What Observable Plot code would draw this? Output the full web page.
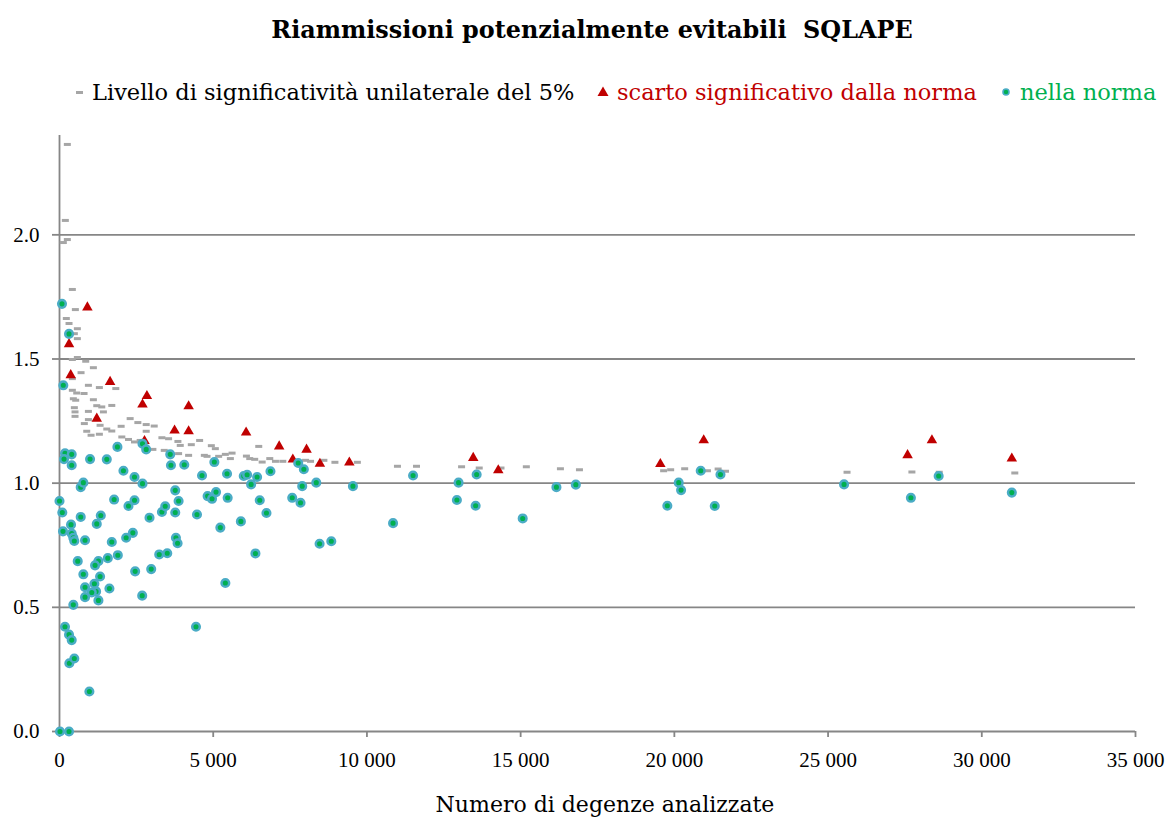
<!DOCTYPE html>
<html>
<head>
<meta charset="utf-8">
<script src="https://cdn.jsdelivr.net/npm/d3@7"></script>
<script src="https://cdn.jsdelivr.net/npm/@observablehq/plot@0.6"></script>
<style>
  html, body { margin: 0; padding: 0; background: #fff; }
  body { width: 1167px; height: 818px; overflow: hidden; position: relative; font-family: "DejaVu Serif", serif; }
  #head { position: relative; height: 120px; }
  #title { position: absolute; left: 192px; width: 800px; top: 15px; line-height: 30px; text-align: center; font-weight: bold; font-size: 23.9px; color: #000; white-space: nowrap; }
  .lg { position: absolute; top: 77px; line-height: 30px; font-size: 22.5px; white-space: nowrap; }
  .sym { position: absolute; }
  #chart svg { display: block; }
  #xlabel { position: absolute; left: 305px; width: 600px; top: 790px; line-height: 30px; text-align: center; font-size: 22px; color: #000; }
</style>
</head>
<body>
<div id="head">
  <div id="title">Riammissioni potenzialmente evitabili&nbsp; SQLAPE</div>
  <div class="sym" style="left:76px;top:91px;width:7px;height:3px;background:#A6A6A6"></div>
  <div class="lg" style="left:92px;color:#000">Livello di significatività unilaterale del 5%</div>
  <svg class="sym" style="left:597px;top:86px" width="12" height="11"><path d="M6,0.5 L11.5,10 L0.5,10 Z" fill="#C00000"/></svg>
  <div class="lg" style="left:617px;color:#C00000">scarto significativo dalla norma</div>
  <svg class="sym" style="left:1001px;top:87px" width="10" height="10"><circle cx="5" cy="5" r="3" fill="#00B050" stroke="#4BACC6" stroke-width="1.6"/></svg>
  <div class="lg" style="left:1020px;color:#00B050">nella norma</div>
</div>
<div id="chart"></div>
<div id="xlabel">Numero di degenze analizzate</div>
<script>
// Soglia (livello di significatività unilaterale del 5%): [degenze, valore]
const soglia = [
  [255,2.364],[190,2.058],[255,1.981],[125,1.969],[418,1.780],[516,1.699],[222,1.663],[310,1.643],
  [581,1.622],[483,1.602],[581,1.582],[581,1.506],[418,1.498],[853,1.491],[1102,1.465],[701,1.445],
  [418,1.421],[940,1.394],[1297,1.385],[1832,1.381],[418,1.374],[560,1.363],[799,1.361],[450,1.340],
  [527,1.334],[1102,1.336],[483,1.304],[1212,1.312],[1375,1.307],[1701,1.313],[505,1.287],[505,1.269],
  [940,1.289],[1428,1.287],[940,1.256],[808,1.240],[1320,1.233],[1538,1.218],[1701,1.210],[886,1.209],
  [1027,1.193],[1297,1.197],[2005,1.229],[2027,1.186],[2244,1.176],[2298,1.260],[2549,1.244],[2820,1.236],
  [3081,1.230],[2820,1.209],[2440,1.166],[2624,1.172],[3331,1.183],[3548,1.179],[3852,1.168],[3928,1.152],
  [4287,1.155],[4558,1.172],[4939,1.151],[5069,1.139],[3038,1.136],[3407,1.132],[3874,1.119],[4200,1.112],
  [4711,1.112],[4799,1.108],[5177,1.108],[5395,1.116],[5558,1.099],[5613,1.121],[6481,1.148],[6080,1.109],
  [6188,1.099],[6350,1.096],[6592,1.085],[6840,1.099],[7025,1.088],[7264,1.088],[8003,1.092],[8166,1.088],
  [8600,1.092],[8959,1.084],[9689,1.084],[10993,1.068],[11612,1.068],[13079,1.066],[13653,1.061],[14361,1.061],
  [15185,1.066],[16294,1.058],[16913,1.054],[19651,1.050],[19880,1.054],[20336,1.058],[21076,1.050],[21424,1.057],
  [21663,1.048],[25617,1.044],[27727,1.045],[28617,1.044],[31074,1.041]
];

// Scarto significativo dalla norma: [degenze, valore]
const scarto = [
  [907,1.714],[310,1.566],[365,1.441],[1646,1.414],[2843,1.357],[2700,1.323],[4200,1.316],[1212,1.266],
  [3743,1.218],[4200,1.215],[2765,1.176],[6070,1.210],[7146,1.154],[8036,1.141],[7590,1.101],[8470,1.084],
  [9428,1.089],[13458,1.108],[14272,1.058],[19544,1.083],[20955,1.179],[27586,1.119],[28378,1.179],[30977,1.105]
];

// Nella norma: [degenze, valore]
const norma = [
  [81,1.722],[310,1.601],[124,1.394],[180,1.120],[147,1.097],[397,1.116],[397,1.072],[994,1.097],
  [1538,1.096],[1884,1.146],[2080,1.050],[2440,1.025],[2700,0.998],[2700,1.159],[2820,1.136],[3602,1.116],
  [3625,1.072],[4059,1.074],[4636,1.031],[5037,1.085],[5450,1.038],[0,0.928],[91,0.882],[114,0.806],
  [375,0.833],[397,0.797],[450,0.780],[482,0.767],[690,0.864],[690,0.984],[776,1.002],[1212,0.836],
  [1343,0.870],[831,0.770],[1701,0.763],[1777,0.934],[2168,0.780],[2244,0.908],[2440,0.931],[2386,0.800],
  [2928,0.861],[3331,0.884],[3439,0.907],[3765,0.971],[3874,0.928],[3765,0.882],[3787,0.780],[3841,0.758],
  [4472,0.874],[4818,0.948],[4962,0.937],[5092,0.964],[5470,0.941],[5232,0.821],[5900,0.846],[3244,0.713],
  [3505,0.718],[5395,0.598],[593,0.686],[776,0.633],[831,0.581],[831,0.541],[1135,0.595],[1190,0.564],
  [1050,0.560],[1266,0.686],[1157,0.669],[1320,0.624],[1266,0.528],[1571,0.698],[1897,0.710],[1624,0.576],
  [2461,0.645],[2983,0.654],[2690,0.547],[450,0.510],[179,0.422],[310,0.390],[397,0.368],[320,0.275],
  [482,0.294],[972,0.161],[16,0.000],[310,0.000],[4440,0.422],[5993,1.029],[6103,1.034],[6428,1.025],
  [6233,0.995],[6862,1.048],[7765,1.081],[7948,1.056],[7895,0.988],[8352,1.002],[9545,0.988],[11501,1.031],
  [6514,0.931],[7570,0.941],[7840,0.921],[6732,0.880],[8460,0.756],[8841,0.766],[10850,0.839],[6373,0.717],
  [12981,1.002],[13569,1.035],[12926,0.932],[13536,0.909],[15067,0.858],[16164,0.984],[16795,0.994],[20142,1.002],
  [20219,0.972],[19772,0.909],[20858,1.050],[21314,0.908],[21500,1.035],[25520,0.995],[27694,0.941],[28597,1.029],
  [30977,0.962]
];

const xTicks = [0, 5000, 10000, 15000, 20000, 25000, 30000, 35000];
const yTicks = [0, 0.5, 1.0, 1.5, 2.0];
const gridValues = [0.5, 1.0, 1.5, 2.0];

const fmtX = d3.formatLocale({decimal: ".", thousands: " ", grouping: [3], currency: ["", ""]}).format(",d");
const axisGray = "#868686";
const dashSymbol = { draw(ctx) { ctx.rect(-3.5, -1.5, 7, 3); } };

const chart = Plot.plot({
  width: 1167,
  height: 657,
  marginTop: 15,
  marginLeft: 59,
  marginRight: 32,
  marginBottom: 46,
  x: { domain: [0, 35000] },
  y: { domain: [0, 2.4] },
  style: { fontFamily: "'Liberation Serif', serif", fontSize: "21px", color: "#000", background: "#fff", overflow: "visible" },
  marks: [
    Plot.ruleY(gridValues, { stroke: axisGray, strokeWidth: 1.8 }),
    Plot.ruleX([0], { stroke: axisGray, strokeWidth: 1.8 }),
    Plot.ruleY([0], { stroke: axisGray, strokeWidth: 1.8 }),
    Plot.axisY({ ticks: yTicks, tickFormat: d => d.toFixed(1), tickSize: 7, tickPadding: 13, stroke: axisGray, strokeWidth: 1.8, fill: "#000", label: null }),
    Plot.axisX({ ticks: xTicks, tickFormat: fmtX, tickSize: 6, tickPadding: 15, stroke: axisGray, strokeWidth: 1.8, fill: "#000", label: null }),
    Plot.dot(soglia, { x: d => d[0], y: d => d[1], symbol: dashSymbol, fill: "#A6A6A6", stroke: "none" }),
    Plot.dot(scarto, { x: d => d[0], y: d => d[1], symbol: "triangle", r: 3.9, fill: "#C00000", stroke: "none", dy: 1.5 }),
    Plot.dot(norma, { x: d => d[0], y: d => d[1], r: 3.8, fill: "#00B050", stroke: "#4BACC6", strokeWidth: 2.5 })
  ]
});
document.getElementById("chart").appendChild(chart);
</script>
</body>
</html>
